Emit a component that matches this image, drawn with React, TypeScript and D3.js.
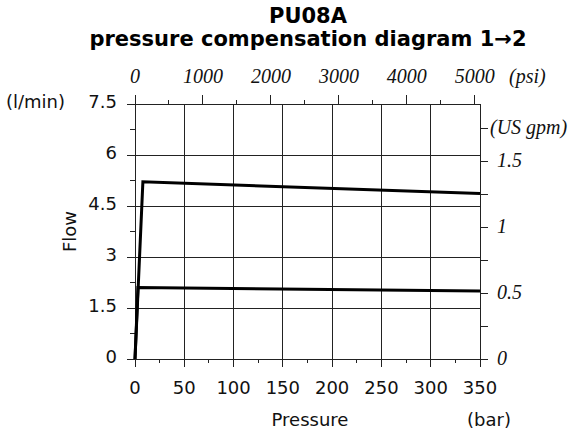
import * as d3 from "d3";
import { useEffect, useRef } from "react";

// curves (bar -> l/min)
const highPressure = [0, 8, 350];
const highFlow = [0, 5.21, 4.87];
const lowPressure = [0, 3, 350];
const lowFlow = [0, 2.1, 2.0];

// axis ticks
const barTicks = [0, 50, 100, 150, 200, 250, 300, 350];
const barMinor = [25, 75, 125, 175, 225, 275, 325];
const flowTicks = [0, 1.5, 3, 4.5, 6, 7.5];
const flowMinor = [0.75, 2.25, 3.75, 5.25, 6.75];
const psiTicks = [0, 1000, 2000, 3000, 4000, 5000];
const psiMinor = [500, 1500, 2500, 3500, 4500];
const gpmTicks = [0, 0.5, 1, 1.5];
const gpmMinor = [0.25, 0.75, 1.25, 1.75];

const PSI_PER_BAR = 14.5038;
const LPM_PER_GPM = 3.88; // as drawn on the reference's right axis

const W = 572;
const H = 435;
const SANS = "'DejaVu Sans', Verdana, sans-serif";
const SERIF = "'Liberation Serif', 'Times New Roman', serif";

export default function App() {
  const svgRef = useRef<SVGSVGElement | null>(null);

  useEffect(() => {
    if (!svgRef.current) return;
    const svg = d3.select(svgRef.current);
    svg.selectAll("*").remove();

    const x = d3.scaleLinear().domain([0, 350]).range([135, 480]);
    const y = d3.scaleLinear().domain([0, 7.5]).range([359, 104]);
    const xPsi = (p: number) => x(p / PSI_PER_BAR);
    const yGpm = (g: number) => y(g * LPM_PER_GPM);

    const [x0, x1] = x.range();
    const [y0, y1] = y.range();
    const grid = svg.append("g").attr("stroke", "#222").attr("stroke-width", 1).attr("shape-rendering", "crispEdges");

    // horizontal gridlines + left major ticks
    grid.selectAll(".hg").data(flowTicks).join("line")
      .attr("x1", x0 - 8).attr("x2", x1)
      .attr("y1", (d) => y(d)).attr("y2", (d) => y(d));
    grid.selectAll(".lm").data(flowMinor).join("line")
      .attr("x1", x0 - 5).attr("x2", x0)
      .attr("y1", (d) => y(d)).attr("y2", (d) => y(d));

    // vertical gridlines + bottom ticks
    grid.selectAll(".vg").data(barTicks).join("line")
      .attr("x1", (d) => x(d)).attr("x2", (d) => x(d))
      .attr("y1", y1).attr("y2", y0 + 8);
    grid.selectAll(".bm").data(barMinor).join("line")
      .attr("x1", (d) => x(d)).attr("x2", (d) => x(d))
      .attr("y1", y0).attr("y2", y0 + 4);

    // top psi ticks
    grid.selectAll(".pt").data(psiTicks).join("line")
      .attr("x1", (d) => xPsi(d)).attr("x2", (d) => xPsi(d))
      .attr("y1", y1 - 9).attr("y2", y1);
    grid.selectAll(".pm").data(psiMinor).join("line")
      .attr("x1", (d) => xPsi(d)).attr("x2", (d) => xPsi(d))
      .attr("y1", y1 - 4).attr("y2", y1);

    // right gpm ticks
    grid.selectAll(".gt").data([...gpmTicks, ...gpmMinor]).join("line")
      .attr("x1", x1).attr("x2", x1 + 8)
      .attr("y1", (d) => yGpm(d)).attr("y2", (d) => yGpm(d));

    // curves
    const line = d3.line<[number, number]>().x((d) => x(d[0])).y((d) => y(d[1]));
    const curves = [
      d3.zip(highPressure, highFlow) as [number, number][],
      d3.zip(lowPressure, lowFlow) as [number, number][],
    ];
    svg.append("g").selectAll("path").data(curves).join("path")
      .attr("d", (d) => line(d))
      .attr("fill", "none")
      .attr("stroke", "#000")
      .attr("stroke-width", 3)
      .attr("stroke-linejoin", "miter");

    // left labels
    const sans = svg.append("g").attr("font-family", SANS).attr("font-size", 18).attr("fill", "#111");
    sans.selectAll(".ly").data(flowTicks).join("text")
      .attr("x", 117).attr("y", (d) => y(d) + 4)
      .attr("text-anchor", "end")
      .text((d) => String(d));
    sans.append("text").attr("x", 6).attr("y", y(7.5) + 4).text("(l/min)");
    sans.append("text")
      .attr("transform", `translate(76,${(y0 + y1) / 2}) rotate(-90)`)
      .attr("text-anchor", "middle")
      .text("Flow");

    // bottom labels
    sans.selectAll(".lx").data(barTicks).join("text")
      .attr("x", (d) => x(d)).attr("y", 394)
      .attr("text-anchor", "middle")
      .text((d) => String(d));
    sans.append("text").attr("x", 310).attr("y", 426).attr("text-anchor", "middle").text("Pressure");
    sans.append("text").attr("x", 467).attr("y", 426).text("(bar)");

    // italic serif secondary axes
    const serif = svg.append("g").attr("font-family", SERIF).attr("font-style", "italic").attr("font-size", 20).attr("fill", "#111");
    serif.selectAll(".lp").data(psiTicks).join("text")
      .attr("x", (d) => xPsi(d)).attr("y", 83)
      .attr("text-anchor", "middle")
      .text((d) => String(d));
    serif.append("text").attr("x", 509).attr("y", 83).text("(psi)");
    serif.selectAll(".lg").data(gpmTicks).join("text")
      .attr("x", 497).attr("y", (d) => yGpm(d) + 6)
      .text((d) => String(d));
    serif.append("text").attr("x", 490).attr("y", yGpm(1.75) + 6).text("(US gpm)");

    // title
    const title = svg.append("g").attr("font-family", SANS).attr("font-weight", "bold").attr("font-size", 21)
      .attr("text-anchor", "middle").attr("fill", "#000");
    title.append("text").attr("x", 308).attr("y", 23).text("PU08A");
    title.append("text").attr("x", 308).attr("y", 46).text("pressure compensation diagram 1\u21922");
  }, []);

  return (
    <svg
      ref={svgRef}
      width={W}
      height={H}
      style={{ position: "absolute", left: 0, top: 0, background: "#fff" }}
    />
  );
}
